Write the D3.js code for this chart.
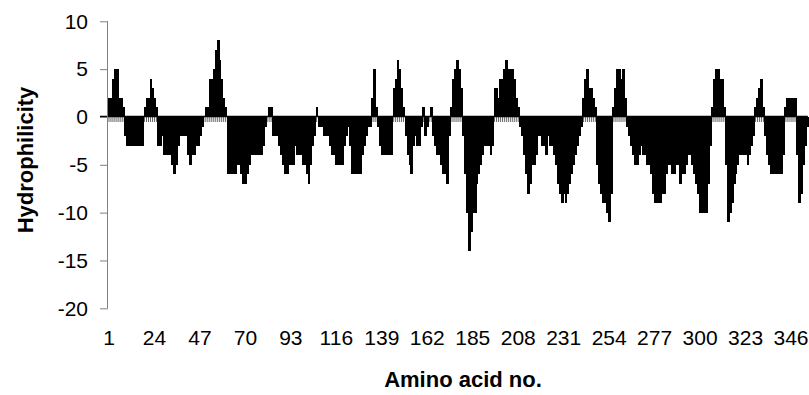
<!DOCTYPE html>
<html>
<head>
<meta charset="utf-8">
<script src="https://cdn.jsdelivr.net/npm/d3@7"></script>
<style>
  html, body { margin: 0; padding: 0; background: #fff; }
  svg { display: block; }
  text { font-family: "Liberation Sans", Arial, sans-serif; }
</style>
</head>
<body>
<svg id="chart" width="809" height="395"></svg>
<script>
// Hydrophilicity value per amino acid (residue 1 .. N)
const hydrophilicity = [
  2,2,4,5,5,2,2,1,-2,-3,
  -3,-3,-3,-3,-3,-3,-3,-3,1,2,
  2,4,3,2,1,-3,-3,-2,-4,-4,
  -4,-4,-5,-6,-5,-3,-2,-2,-2,-2,
  -4,-5,-4,-4,-3,-3,-2,-1,0,1,
  1,4,4,5,7,8,6,4,2,1,
  -6,-6,-6,-6,-6,-5,-5,-6,-7,-7,
  -6,-5,-4,-4,-4,-4,-4,-4,-3,-1,
  0,1,1,-2,-2,-2,-3,-4,-5,-6,
  -6,-5,-5,-5,-3,-4,-4,-4,-5,-5,
  -6,-7,-5,-3,-2,1,-1,-1,-1,-2,
  -2,-2,-3,-4,-4,-5,-5,-5,-5,-3,
  -2,-1,-3,-6,-6,-6,-6,-6,-4,-3,
  -2,-1,-1,2,5,1,-1,-3,-4,-4,
  -4,-4,-4,-4,3,4,6,5,3,1,
  -2,-4,-5,-6,-3,-2,-3,-3,-1,1,
  -2,-1,0,1,-2,-3,-4,-4,-5,-6,
  -6,-7,-2,1,4,5,6,5,3,-2,
  -6,-10,-14,-12,-10,-10,-7,-6,-5,-4,
  -3,-3,-3,-4,-3,3,3,2,4,4,
  5,6,5,5,5,4,2,1,-1,-2,
  -4,-6,-8,-7,-5,-5,-4,-2,-2,-3,
  -3,-4,-2,-3,-3,-4,-5,-7,-8,-9,
  -8,-9,-8,-7,-6,-5,-4,-3,-2,-1,
  2,4,5,3,3,2,1,-5,-7,-8,
  -9,-9,-10,-11,-8,1,3,5,5,4,
  5,2,-1,-2,-3,-4,-5,-5,-4,-3,
  -4,-4,-5,-5,-6,-8,-9,-9,-9,-9,
  -8,-8,-6,-5,-5,-6,-6,-5,-5,-7,
  -6,-6,-5,-4,-4,-5,-6,-7,-8,-10,
  -10,-10,-10,-7,-3,1,4,5,5,4,
  4,1,-5,-11,-10,-9,-7,-6,-5,-4,
  -4,-4,-4,-5,-4,-3,-2,1,2,3,
  4,1,-2,-4,-5,-6,-6,-6,-6,-6,
  -6,-4,1,2,2,2,2,2,-4,-9,
  -8,-5,-3,-1
];
const residues = hydrophilicity.map((d, i) => i + 1);
const xTickLabels = [1, 24, 47, 70, 93, 116, 139, 162, 185, 208, 231, 254, 277, 300, 323, 346];
const yTickValues = [-20, -15, -10, -5, 0, 5, 10];
const yTitle = "Hydrophilicity";
const xTitle = "Amino acid no.";

const svg = d3.select("#chart");
const left = 108, step = 1.977;
const x = d3.scaleBand()
  .domain(residues)
  .range([left, left + residues.length * step])
  .padding(0);
const y = d3.scaleLinear().domain([-20, 10]).range([308.3, 21.3]);

// category axis at zero with a tick per residue (drawn first, bars cover it)
const xAxis = d3.axisBottom(x).tickSize(5).tickFormat("");
const gx = svg.append("g")
  .attr("transform", `translate(0,${Math.round(y(0))})`)
  .call(xAxis);
gx.select(".domain").remove();
gx.selectAll(".tick line").attr("stroke", "#555").attr("stroke-width", 0.9);

// bars
svg.append("g")
  .attr("shape-rendering", "crispEdges")
  .selectAll("rect")
  .data(hydrophilicity)
  .join("rect")
  .attr("x", (d, i) => x(residues[i]))
  .attr("width", x.bandwidth() + 0.8)
  .attr("y", d => y(Math.max(0, d)))
  .attr("height", d => Math.abs(y(d) - y(0)))
  .attr("fill", "#000");

// zero line
svg.append("line")
  .attr("x1", left - 8).attr("x2", x.range()[1])
  .attr("y1", Math.round(y(0)) - 0.5).attr("y2", Math.round(y(0)) - 0.5)
  .attr("stroke", "#000").attr("stroke-width", 1.5);

// value axis
const yAxis = d3.axisLeft(y).tickValues(yTickValues).tickSize(8).tickPadding(12)
  .tickFormat(d => String(d));
const gy = svg.append("g")
  .attr("transform", `translate(${left},0)`)
  .call(yAxis);
gy.select(".domain").attr("stroke", "#808080").attr("d", `M-0.5,${y(10)}V${y(-20)}`);
gy.selectAll(".tick line").attr("stroke", "#808080");
gy.selectAll(".tick text")
  .attr("font-size", 21)
  .attr("font-family", "Liberation Sans, Arial, sans-serif")
  .attr("fill", "#000");

// category labels at bottom
svg.append("g")
  .selectAll("text")
  .data(xTickLabels)
  .join("text")
  .attr("x", d => x(d) + x.bandwidth() / 2)
  .attr("y", 345)
  .attr("text-anchor", "middle")
  .attr("font-size", 21)
  .attr("fill", "#000")
  .text(d => String(d));

// titles
svg.append("text")
  .attr("transform", "translate(33,160) rotate(-90)")
  .attr("text-anchor", "middle")
  .attr("font-size", 22)
  .attr("font-weight", "bold")
  .text(yTitle);

svg.append("text")
  .attr("x", 463)
  .attr("y", 387)
  .attr("text-anchor", "middle")
  .attr("font-size", 22)
  .attr("font-weight", "bold")
  .text(xTitle);
</script>
</body>
</html>
